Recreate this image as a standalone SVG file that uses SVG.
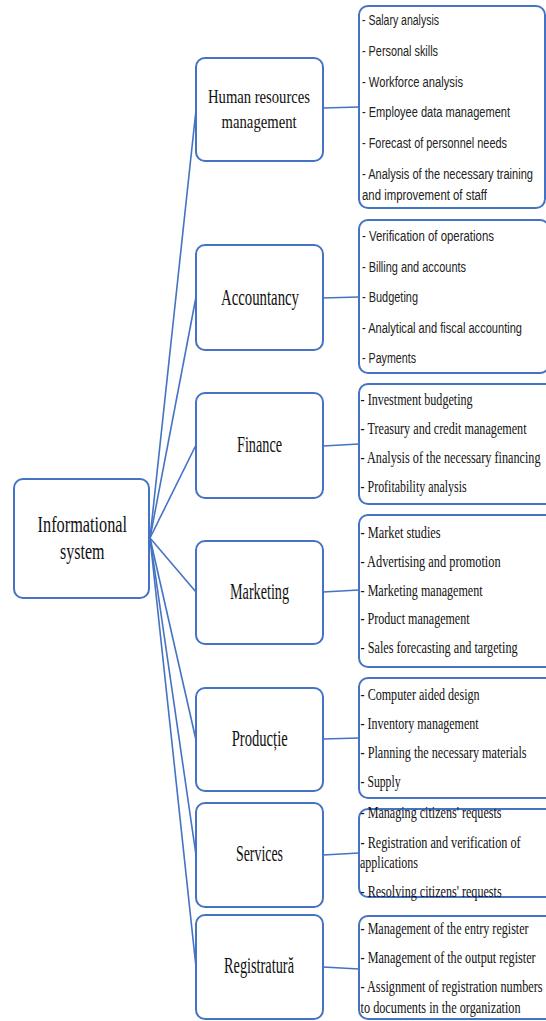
<svg xmlns="http://www.w3.org/2000/svg" width="546" height="1021" viewBox="0 0 546 1021">
<style>
.box{fill:#fff;stroke:#4472C4;stroke-width:2}
.con{stroke:#4472C4;stroke-width:1.6;fill:none}
.mid{font-family:"Liberation Serif","Times New Roman",serif;font-size:24px;fill:#111}
.cal{font-family:"Liberation Sans",Arial,sans-serif;font-size:15px;fill:#222}
.tms{font-family:"Liberation Serif","Times New Roman",serif;font-size:16px;fill:#111}
</style>
<rect width="546" height="1021" fill="#fff"/>
<g id="connectors">
<line class="con" x1="150" y1="538" x2="196" y2="110"/>
<line class="con" x1="150" y1="538" x2="196" y2="297"/>
<line class="con" x1="150" y1="538" x2="196" y2="445"/>
<line class="con" x1="150" y1="538" x2="196" y2="592"/>
<line class="con" x1="150" y1="538" x2="196" y2="740"/>
<line class="con" x1="150" y1="538" x2="196" y2="855"/>
<line class="con" x1="150" y1="538" x2="196" y2="967"/>
<line class="con" x1="323" y1="108" x2="359" y2="107"/>
<line class="con" x1="323" y1="298" x2="359" y2="297"/>
<line class="con" x1="323" y1="446" x2="359" y2="444"/>
<line class="con" x1="323" y1="592" x2="359" y2="590"/>
<line class="con" x1="323" y1="739" x2="359" y2="738"/>
<line class="con" x1="323" y1="855" x2="359" y2="853"/>
<line class="con" x1="323" y1="967" x2="359" y2="969"/>
</g>
<g id="informational">
<rect class="box" x="14" y="479" width="135" height="119" rx="9"/>
<text class="mid" x="37.6" y="531.7" font-size="25" textLength="89.5" lengthAdjust="spacingAndGlyphs">Informational</text>
<text class="mid" x="60" y="559.3" font-size="25" textLength="44.5" lengthAdjust="spacingAndGlyphs">system</text>
</g>
<g id="hr">
<rect class="box" x="196" y="58" width="127" height="103" rx="9"/>
<text class="mid" x="208" y="103" style="font-size:19px" textLength="102" lengthAdjust="spacingAndGlyphs">Human resources</text>
<text class="mid" x="221.6" y="128" style="font-size:19px" textLength="75" lengthAdjust="spacingAndGlyphs">management</text>
</g>
<g id="hr-list">
<rect class="box" x="359" y="6" width="186" height="202" rx="9"/>
<g transform="scale(0.74,1)">
<text class="cal" x="489.19" y="25" textLength="104.05" lengthAdjust="spacingAndGlyphs">- Salary analysis</text>
<text class="cal" x="489.19" y="56" textLength="102.7" lengthAdjust="spacingAndGlyphs">- Personal skills</text>
<text class="cal" x="489.19" y="87" textLength="136.49" lengthAdjust="spacingAndGlyphs">- Workforce analysis</text>
<text class="cal" x="489.19" y="117" textLength="200" lengthAdjust="spacingAndGlyphs">- Employee data management</text>
<text class="cal" x="489.19" y="148" textLength="195.95" lengthAdjust="spacingAndGlyphs">- Forecast of personnel needs</text>
<text class="cal" x="489.19" y="179" textLength="231.08" lengthAdjust="spacingAndGlyphs">- Analysis of the necessary training</text>
<text class="cal" x="489.19" y="200" textLength="168.92" lengthAdjust="spacingAndGlyphs">and improvement of staff</text>
</g>
</g>
<g id="accountancy">
<rect class="box" x="196" y="245" width="127" height="105" rx="9"/>
<text class="mid" x="221" y="305" textLength="78" lengthAdjust="spacingAndGlyphs">Accountancy</text>
</g>
<g id="accountancy-list">
<rect class="box" x="359" y="220" width="190" height="153" rx="9"/>
<g transform="scale(0.74,1)">
<text class="cal" x="489.19" y="241" textLength="178.38" lengthAdjust="spacingAndGlyphs">- Verification of operations</text>
<text class="cal" x="489.19" y="272" textLength="140.54" lengthAdjust="spacingAndGlyphs">- Billing and accounts</text>
<text class="cal" x="489.19" y="302" textLength="75.68" lengthAdjust="spacingAndGlyphs">- Budgeting</text>
<text class="cal" x="489.19" y="333" textLength="216.22" lengthAdjust="spacingAndGlyphs">- Analytical and fiscal accounting</text>
<text class="cal" x="489.19" y="363" textLength="72.97" lengthAdjust="spacingAndGlyphs">- Payments</text>
</g>
</g>
<g id="finance">
<rect class="box" x="196" y="393" width="127" height="105" rx="9"/>
<text class="mid" x="237" y="452" textLength="45" lengthAdjust="spacingAndGlyphs">Finance</text>
</g>
<g id="finance-list">
<rect class="box" x="359" y="384" width="195" height="120" rx="9"/>
<g transform="scale(0.7,1)">
<text class="tms" x="515.14" y="405" textLength="160" lengthAdjust="spacingAndGlyphs">- Investment  budgeting</text>
<text class="tms" x="515.14" y="434" textLength="237.14" lengthAdjust="spacingAndGlyphs">- Treasury and  credit management</text>
<text class="tms" x="515.14" y="463" textLength="257.14" lengthAdjust="spacingAndGlyphs">- Analysis  of the necessary  financing</text>
<text class="tms" x="515.14" y="492" textLength="151.43" lengthAdjust="spacingAndGlyphs">- Profitability analysis</text>
</g>
</g>
<g id="marketing">
<rect class="box" x="196" y="541" width="127" height="103" rx="9"/>
<text class="mid" x="230" y="599" textLength="59" lengthAdjust="spacingAndGlyphs">Marketing</text>
</g>
<g id="marketing-list">
<rect class="box" x="359" y="515" width="195" height="152" rx="9"/>
<g transform="scale(0.7,1)">
<text class="tms" x="515.14" y="538" textLength="114.29" lengthAdjust="spacingAndGlyphs">- Market  studies</text>
<text class="tms" x="515.14" y="567" textLength="200" lengthAdjust="spacingAndGlyphs">- Advertising  and promotion</text>
<text class="tms" x="515.14" y="596" textLength="174.29" lengthAdjust="spacingAndGlyphs">- Marketing  management</text>
<text class="tms" x="515.14" y="624" textLength="155.71" lengthAdjust="spacingAndGlyphs">- Product management</text>
<text class="tms" x="515.14" y="653" textLength="224.29" lengthAdjust="spacingAndGlyphs">- Sales forecasting and targeting</text>
</g>
</g>
<g id="productie">
<rect class="box" x="196" y="688" width="127" height="103" rx="9"/>
<text class="mid" x="231.7" y="746" textLength="56" lengthAdjust="spacingAndGlyphs">Producție</text>
</g>
<g id="productie-list">
<rect class="box" x="359" y="678" width="195" height="120" rx="9"/>
<g transform="scale(0.7,1)">
<text class="tms" x="515.14" y="700" textLength="170" lengthAdjust="spacingAndGlyphs">- Computer aided design</text>
<text class="tms" x="515.14" y="729" textLength="168.57" lengthAdjust="spacingAndGlyphs">- Inventory  management</text>
<text class="tms" x="515.14" y="758" textLength="237.14" lengthAdjust="spacingAndGlyphs">- Planning the necessary materials</text>
<text class="tms" x="515.14" y="787" textLength="57.14" lengthAdjust="spacingAndGlyphs">- Supply</text>
</g>
</g>
<g id="services">
<rect class="box" x="196" y="803" width="127" height="104" rx="9"/>
<text class="mid" x="236" y="861" textLength="47" lengthAdjust="spacingAndGlyphs">Services</text>
</g>
<g id="services-list">
<rect class="box" x="359" y="809" width="195" height="88" rx="9"/>
<g transform="scale(0.7,1)">
<text class="tms" x="515.14" y="818" textLength="201.43" lengthAdjust="spacingAndGlyphs">- Managing  citizens' requests</text>
<text class="tms" x="515.14" y="848" textLength="228.57" lengthAdjust="spacingAndGlyphs">- Registration and verification of</text>
<text class="tms" x="514.29" y="868" textLength="82.86" lengthAdjust="spacingAndGlyphs">applications</text>
<text class="tms" x="515.14" y="897" textLength="201.43" lengthAdjust="spacingAndGlyphs">- Resolving citizens' requests</text>
</g>
</g>
<g id="registratura">
<rect class="box" x="196" y="915" width="127" height="104" rx="9"/>
<text class="mid" x="224" y="973" textLength="70" lengthAdjust="spacingAndGlyphs">Registratură</text>
</g>
<g id="registratura-list">
<rect class="box" x="359" y="916" width="195" height="103" rx="9"/>
<g transform="scale(0.7,1)">
<text class="tms" x="515.14" y="934" textLength="240" lengthAdjust="spacingAndGlyphs">- Management  of the entry register</text>
<text class="tms" x="515.14" y="963" textLength="250" lengthAdjust="spacingAndGlyphs">- Management  of the output register</text>
<text class="tms" x="515.14" y="992" textLength="260" lengthAdjust="spacingAndGlyphs">- Assignment  of registration numbers</text>
<text class="tms" x="515.14" y="1013" textLength="228.57" lengthAdjust="spacingAndGlyphs">to documents in the organization</text>
</g>
</g>
</svg>
